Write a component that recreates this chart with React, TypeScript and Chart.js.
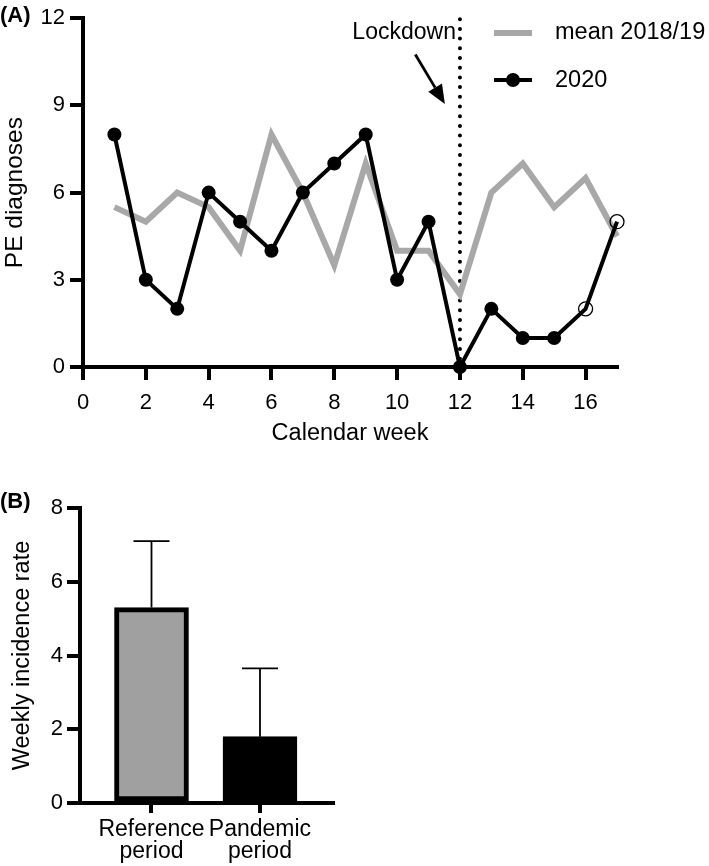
import React, { useEffect, useRef } from 'react';
import { Chart, registerables } from 'chart.js';

Chart.register(...registerables);

// ---------- Panel A data ----------
const WEEKS = [1, 2, 3, 4, 5, 6, 7, 8, 9, 10, 11, 12, 13, 14, 15, 16, 17];
const MEAN_2018_19 = [5.5, 5, 6, 5.5, 4, 8, 6, 3.5, 7, 4, 4, 2.5, 6, 7, 5.5, 6.5, 4.5];
const CASES_2020 = [8, 3, 2, 6, 5, 4, 6, 7, 8, 3, 5, 0, 2, 1, 1, 2, 5];
const OPEN_MARKER_2020 = [false, false, false, false, false, false, false, false, false, false, false, false, false, false, false, true, true];
const A_Y_MIN = 0;
const A_Y_MAX = 12;
const A_Y_STEP = 3;
const A_X_MIN = 0;
const A_X_MAX = 17;
const A_X_STEP = 2;
const LOCKDOWN_WEEK = 12;
const LOCKDOWN_LABEL = 'Lockdown';
const LOCKDOWN_LABEL_Y = 11.5;
const ARROW_FROM = [10.58, 10.75];
const ARROW_TO = [11.52, 9.05];
const SERIES_LABELS = ['mean 2018/19', '2020'];

// ---------- Panel B data ----------
const PERIODS = [['Reference', 'period'], ['Pandemic', 'period']];
const INCIDENCE_MEAN = [5.3, 1.8];
const INCIDENCE_SD = [1.8, 1.85];
const B_Y_MIN = 0;
const B_Y_MAX = 8;
const B_Y_STEP = 2;

const FONT = "'Liberation Sans', Arial, Helvetica, sans-serif";
const GRAY_LINE = '#a8a8a8';
const GRAY_BAR = '#a0a0a0';
const AXIS_W = 4;

Chart.defaults.font.family = FONT;
Chart.defaults.color = '#000';

const lockdownPlugin = {
  id: 'lockdown',
  beforeDatasetsDraw(chart: any) {
    const { ctx, chartArea, scales } = chart;
    const px = scales.x.getPixelForValue(LOCKDOWN_WEEK);
    ctx.save();
    ctx.strokeStyle = '#000';
    ctx.lineWidth = 4;
    ctx.lineCap = 'round';
    ctx.setLineDash([0, 9.7]);
    ctx.beginPath();
    ctx.moveTo(px, chartArea.top + 1);
    ctx.lineTo(px, chartArea.bottom);
    ctx.stroke();
    ctx.restore();
  },
  afterDatasetsDraw(chart: any) {
    const { ctx, scales } = chart;
    const px = scales.x.getPixelForValue(LOCKDOWN_WEEK);
    ctx.save();
    ctx.fillStyle = '#000';
    ctx.font = `23px ${FONT}`;
    ctx.textAlign = 'right';
    ctx.textBaseline = 'middle';
    ctx.fillText(LOCKDOWN_LABEL, px - 4, scales.y.getPixelForValue(LOCKDOWN_LABEL_Y));
    // arrow
    const x1 = scales.x.getPixelForValue(ARROW_FROM[0]);
    const y1 = scales.y.getPixelForValue(ARROW_FROM[1]);
    const x2 = scales.x.getPixelForValue(ARROW_TO[0]);
    const y2 = scales.y.getPixelForValue(ARROW_TO[1]);
    const ang = Math.atan2(y2 - y1, x2 - x1);
    const headLen = 19;
    const headHalf = 8;
    const bx = x2 - headLen * Math.cos(ang);
    const by = y2 - headLen * Math.sin(ang);
    ctx.strokeStyle = '#000';
    ctx.lineWidth = 2.8;
    ctx.beginPath();
    ctx.moveTo(x1, y1);
    ctx.lineTo(bx, by);
    ctx.stroke();
    ctx.beginPath();
    ctx.moveTo(x2, y2);
    ctx.lineTo(bx + headHalf * Math.sin(ang), by - headHalf * Math.cos(ang));
    ctx.lineTo(bx - headHalf * Math.sin(ang), by + headHalf * Math.cos(ang));
    ctx.closePath();
    ctx.fill();
    ctx.restore();
  },
};

const legendPlugin = {
  id: 'customLegend',
  afterDraw(chart: any) {
    const { ctx } = chart;
    const lx0 = 494;
    const lx1 = 532;
    const tx = 555;
    const rows = [33, 80];
    ctx.save();
    ctx.font = `23.5px ${FONT}`;
    ctx.textAlign = 'left';
    ctx.textBaseline = 'middle';
    ctx.fillStyle = '#000';
    // gray
    ctx.strokeStyle = GRAY_LINE;
    ctx.lineWidth = 6;
    ctx.beginPath();
    ctx.moveTo(lx0, rows[0]);
    ctx.lineTo(lx1, rows[0]);
    ctx.stroke();
    ctx.fillText(SERIES_LABELS[0], tx, rows[0]);
    // black
    ctx.strokeStyle = '#000';
    ctx.lineWidth = 4;
    ctx.beginPath();
    ctx.moveTo(lx0, rows[1]);
    ctx.lineTo(lx1, rows[1]);
    ctx.stroke();
    ctx.beginPath();
    ctx.arc((lx0 + lx1) / 2, rows[1], 7, 0, Math.PI * 2);
    ctx.fill();
    ctx.fillText(SERIES_LABELS[1], tx, rows[1] + 1);
    ctx.restore();
  },
};

const errorBarPlugin = {
  id: 'errorBars',
  afterDatasetsDraw(chart: any) {
    const { ctx, scales } = chart;
    ctx.save();
    ctx.strokeStyle = '#000';
    ctx.lineWidth = 1.8;
    INCIDENCE_MEAN.forEach((m, i) => {
      const x = scales.x.getPixelForValue(i);
      const yBase = scales.y.getPixelForValue(m);
      const yTop = scales.y.getPixelForValue(m + INCIDENCE_SD[i]);
      ctx.beginPath();
      ctx.moveTo(x, yBase);
      ctx.lineTo(x, yTop);
      ctx.moveTo(x - 18, yTop);
      ctx.lineTo(x + 18, yTop);
      ctx.stroke();
    });
    ctx.restore();
  },
};

function axisCommon() {
  return {
    border: { display: true, color: '#000', width: AXIS_W },
    grid: { drawOnChartArea: false, drawTicks: true, color: '#000', lineWidth: AXIS_W, tickLength: 13 },
  };
}

export default function App() {
  const refA = useRef<HTMLCanvasElement>(null);
  const refB = useRef<HTMLCanvasElement>(null);

  useEffect(() => {
    const chartA = new Chart(refA.current!, {
      type: 'line',
      data: {
        datasets: [
          {
            label: SERIES_LABELS[1],
            data: WEEKS.map((w, i) => ({ x: w, y: CASES_2020[i] })),
            borderColor: '#000',
            borderWidth: 4,
            borderJoinStyle: 'miter',
            pointRadius: 7,
            pointHoverRadius: 7,
            pointBackgroundColor: OPEN_MARKER_2020.map((o) => (o ? 'rgba(0,0,0,0)' : '#000')),
            pointBorderColor: '#000',
            pointBorderWidth: OPEN_MARKER_2020.map((o) => (o ? 1.3 : 0)),
            order: 0,
            clip: false,
          },
          {
            label: SERIES_LABELS[0],
            data: WEEKS.map((w, i) => ({ x: w, y: MEAN_2018_19[i] })),
            borderColor: GRAY_LINE,
            borderWidth: 6,
            borderJoinStyle: 'miter',
            pointRadius: 0,
            order: 1,
            clip: false,
          },
        ],
      } as any,
      options: {
        animation: false,
        responsive: false,
        events: [],
        layout: { padding: { left: 0, top: 12, right: 92, bottom: 0 } },
        plugins: { legend: { display: false }, tooltip: { enabled: false } },
        scales: {
          x: {
            type: 'linear',
            min: A_X_MIN,
            max: A_X_MAX,
            ...axisCommon(),
            ticks: { stepSize: A_X_STEP, includeBounds: false, font: { size: 22 }, padding: 10, color: '#000', maxRotation: 0 },
            title: { display: true, text: 'Calendar week', font: { size: 23.5 }, color: '#000', padding: { top: 0, bottom: 12 } },
            afterFit: (s: any) => { s.height = 460 - 367; },
          },
          y: {
            type: 'linear',
            min: A_Y_MIN,
            max: A_Y_MAX,
            ...axisCommon(),
            ticks: { stepSize: A_Y_STEP, font: { size: 22 }, padding: 5, color: '#000' },
            title: { display: true, text: 'PE diagnoses', font: { size: 24.5 }, color: '#000', padding: { top: 1, bottom: 0 } },
            afterFit: (s: any) => { s.width = 83; },
          },
        },
      } as any,
      plugins: [lockdownPlugin, legendPlugin],
    });

    const chartB = new Chart(refB.current!, {
      type: 'bar',
      data: {
        datasets: [
          {
            data: INCIDENCE_MEAN.map((m, i) => ({ x: i, y: m })),
            backgroundColor: [GRAY_BAR, '#000'],
            borderColor: '#000',
            borderWidth: 5,
            borderSkipped: false,
            barThickness: 74,
          },
        ],
      } as any,
      options: {
        animation: false,
        responsive: false,
        events: [],
        layout: { padding: { left: 0, top: 48, right: 709 - 333, bottom: 0 } },
        plugins: { legend: { display: false }, tooltip: { enabled: false } },
        scales: {
          x: {
            type: 'linear',
            min: -0.659,
            max: 1.673,
            offset: false,
            border: { display: true, color: '#000', width: AXIS_W },
            grid: { offset: false, drawOnChartArea: false, drawTicks: true, color: '#000', lineWidth: AXIS_W, tickLength: 10 },
            afterBuildTicks: (s: any) => { s.ticks = PERIODS.map((_, i) => ({ value: i })); },
            ticks: {
              autoSkip: false,
              maxRotation: 0,
              font: { size: 23, lineHeight: 0.95 },
              padding: 6,
              color: '#000',
              callback: (_v: any, i: number) => PERIODS[i],
            },
            afterFit: (s: any) => { s.height = 406 - 343; },
          },
          y: {
            type: 'linear',
            min: B_Y_MIN,
            max: B_Y_MAX,
            ...axisCommon(),
            ticks: { stepSize: B_Y_STEP, font: { size: 22 }, padding: 4, color: '#000' },
            title: { display: true, text: 'Weekly incidence rate', font: { size: 23.5 }, color: '#000', padding: { top: 8, bottom: 0 } },
            afterFit: (s: any) => { s.width = 80; },
          },
        },
      } as any,
      plugins: [errorBarPlugin],
    });

    return () => {
      chartA.destroy();
      chartB.destroy();
    };
  }, []);

  const panelLabel: React.CSSProperties = {
    position: 'absolute',
    left: 0,
    fontFamily: FONT,
    fontWeight: 'bold',
    fontSize: 22,
    lineHeight: '24px',
    margin: 0,
  };

  return (
    <div style={{ position: 'absolute', left: 0, top: 0, width: 709, height: 866, background: '#fff', overflow: 'hidden' }}>
      <canvas ref={refA} width={709} height={460} style={{ position: 'absolute', left: 0, top: 0 }} />
      <canvas ref={refB} width={709} height={406} style={{ position: 'absolute', left: 0, top: 460 }} />
      <div style={{ ...panelLabel, top: 3 }}>(A)</div>
      <div style={{ ...panelLabel, top: 489 }}>(B)</div>
    </div>
  );
}
